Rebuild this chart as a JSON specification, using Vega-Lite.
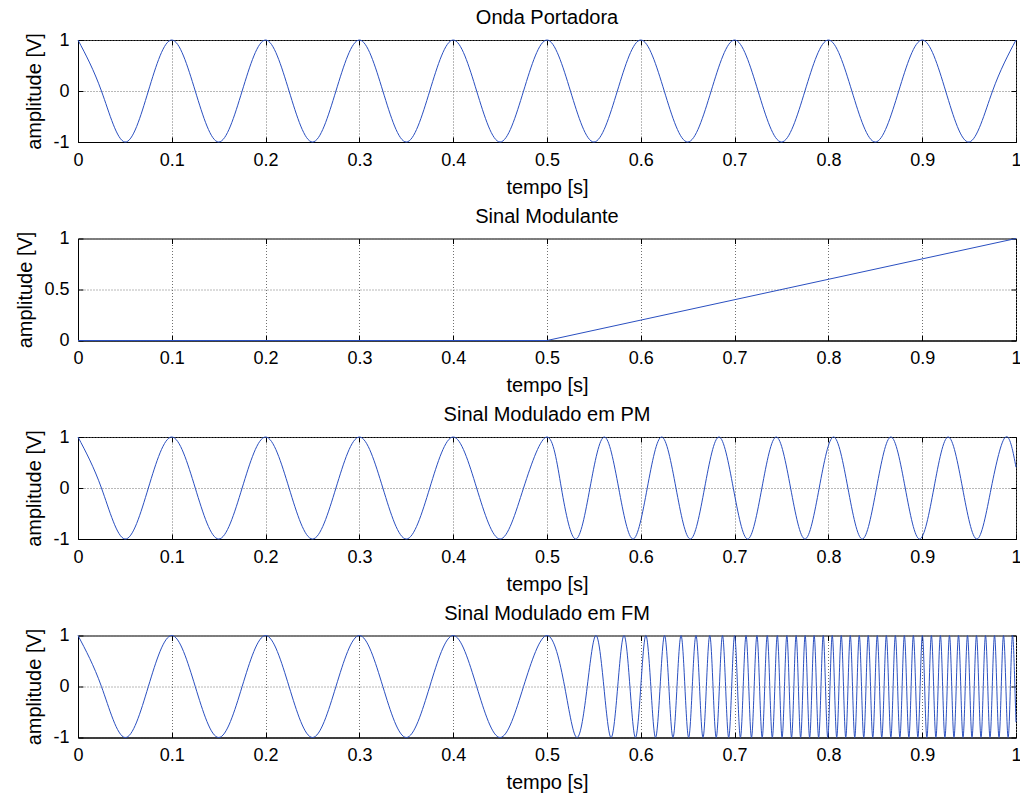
{
  "$schema": "https://vega.github.io/schema/vega-lite/v6.json",
  "padding": {"left": 15, "top": 7, "right": 5, "bottom": 5},
  "autosize": {"type": "pad"},
  "background": "#ffffff",
  "datasets": {
    "car": [{"t":0,"v":1},{"t":0.025,"v":0},{"t":0.05,"v":-1},{"t":0.075,"v":0},{"t":0.1,"v":1},{"t":0.125,"v":0},{"t":0.15,"v":-1},{"t":0.175,"v":0},{"t":0.2,"v":1},{"t":0.225,"v":0},{"t":0.25,"v":-1},{"t":0.275,"v":0},{"t":0.3,"v":1},{"t":0.325,"v":0},{"t":0.35,"v":-1},{"t":0.375,"v":0},{"t":0.4,"v":1},{"t":0.425,"v":0},{"t":0.45,"v":-1},{"t":0.475,"v":0},{"t":0.5,"v":1},{"t":0.525,"v":0},{"t":0.55,"v":-1},{"t":0.575,"v":0},{"t":0.6,"v":1},{"t":0.625,"v":0},{"t":0.65,"v":-1},{"t":0.675,"v":0},{"t":0.7,"v":1},{"t":0.725,"v":0},{"t":0.75,"v":-1},{"t":0.775,"v":0},{"t":0.8,"v":1},{"t":0.825,"v":0},{"t":0.85,"v":-1},{"t":0.875,"v":0},{"t":0.9,"v":1},{"t":0.925,"v":0},{"t":0.95,"v":-1},{"t":0.975,"v":0},{"t":1,"v":1}],
    "mod": [{"t":0,"v":0},{"t":0.5,"v":0},{"t":1,"v":1}],
    "pm": [{"t":0,"v":1},{"t":0.025,"v":0},{"t":0.05,"v":-1},{"t":0.075,"v":0},{"t":0.1,"v":1},{"t":0.125,"v":0},{"t":0.15,"v":-1},{"t":0.175,"v":0},{"t":0.2,"v":1},{"t":0.225,"v":0},{"t":0.25,"v":-1},{"t":0.275,"v":0},{"t":0.3,"v":1},{"t":0.325,"v":0},{"t":0.35,"v":-1},{"t":0.375,"v":0},{"t":0.4,"v":1},{"t":0.425,"v":0},{"t":0.45,"v":-1},{"t":0.475,"v":0},{"t":0.5,"v":1},
      {"t":0.5153,"v":0},{"t":0.5306,"v":-1},{"t":0.5458,"v":0},{"t":0.5611,"v":1},{"t":0.5764,"v":0},{"t":0.5917,"v":-1},{"t":0.6069,"v":0},{"t":0.6222,"v":1},{"t":0.6375,"v":0},{"t":0.6528,"v":-1},{"t":0.668,"v":0},{"t":0.6833,"v":1},{"t":0.6986,"v":0},{"t":0.7139,"v":-1},{"t":0.7291,"v":0},{"t":0.7444,"v":1},{"t":0.7597,"v":0},{"t":0.775,"v":-1},{"t":0.7902,"v":0},{"t":0.8055,"v":1},{"t":0.8208,"v":0},{"t":0.8361,"v":-1},{"t":0.8513,"v":0},{"t":0.8666,"v":1},{"t":0.8819,"v":0},{"t":0.8972,"v":-1},{"t":0.9125,"v":0},{"t":0.9277,"v":1},{"t":0.943,"v":0},{"t":0.9583,"v":-1},{"t":0.9736,"v":0},{"t":0.9888,"v":1},{"t":1,"v":0.409}],
    "fm": [{"t":0,"v":1},{"t":0.025,"v":0},{"t":0.05,"v":-1},{"t":0.075,"v":0},{"t":0.1,"v":1},{"t":0.125,"v":0},{"t":0.15,"v":-1},{"t":0.175,"v":0},{"t":0.2,"v":1},{"t":0.225,"v":0},{"t":0.25,"v":-1},{"t":0.275,"v":0},{"t":0.3,"v":1},{"t":0.325,"v":0},{"t":0.35,"v":-1},{"t":0.375,"v":0},{"t":0.4,"v":1},{"t":0.425,"v":0},{"t":0.45,"v":-1},{"t":0.475,"v":0},{"t":0.5,"v":1},
      {"t":0.5188,"v":0},{"t":0.532,"v":-1},{"t":0.5429,"v":0},{"t":0.5522,"v":1},{"t":0.5606,"v":0},{"t":0.5683,"v":-1},{"t":0.5754,"v":0},{"t":0.5821,"v":1},{"t":0.5884,"v":0},{"t":0.5943,"v":-1},{"t":0.6,"v":0},{"t":0.6054,"v":1},{"t":0.6107,"v":0},{"t":0.6157,"v":-1},{"t":0.6206,"v":0},{"t":0.6253,"v":1},{"t":0.6299,"v":0},{"t":0.6343,"v":-1},{"t":0.6386,"v":0},{"t":0.6429,"v":1},{"t":0.647,"v":0},{"t":0.651,"v":-1},{"t":0.6549,"v":0},{"t":0.6588,"v":1},{"t":0.6626,"v":0},{"t":0.6663,"v":-1},{"t":0.6699,"v":0},{"t":0.6735,"v":1},{"t":0.677,"v":0},{"t":0.6804,"v":-1},{"t":0.6838,"v":0},{"t":0.6871,"v":1},{"t":0.6904,"v":0},{"t":0.6937,"v":-1},{"t":0.6969,"v":0},{"t":0.7,"v":1},{"t":0.7031,"v":0},{"t":0.7062,"v":-1},{"t":0.7092,"v":0},{"t":0.7122,"v":1},{"t":0.7151,"v":0},{"t":0.718,"v":-1},{"t":0.7209,"v":0},{"t":0.7238,"v":1},{"t":0.7266,"v":0},{"t":0.7294,"v":-1},{"t":0.7321,"v":0},{"t":0.7348,"v":1},{"t":0.7375,"v":0},{"t":0.7402,"v":-1},{"t":0.7429,"v":0},{"t":0.7455,"v":1},{"t":0.7481,"v":0},{"t":0.7506,"v":-1},{"t":0.7532,"v":0},{"t":0.7557,"v":1},{"t":0.7582,"v":0},{"t":0.7607,"v":-1},{"t":0.7632,"v":0},{"t":0.7656,"v":1},{"t":0.768,"v":0},
      {"t":0.7704,"v":-1},{"t":0.7728,"v":0},{"t":0.7752,"v":1},{"t":0.7776,"v":0},{"t":0.78,"v":-1},{"t":0.7824,"v":0},{"t":0.7848,"v":1},{"t":0.7872,"v":0},{"t":0.7896,"v":-1},{"t":0.7921,"v":0},{"t":0.7945,"v":1},{"t":0.7969,"v":0},{"t":0.7993,"v":-1},{"t":0.8017,"v":0},{"t":0.8041,"v":1},{"t":0.8065,"v":0},{"t":0.8089,"v":-1},{"t":0.8113,"v":0},{"t":0.8137,"v":1},{"t":0.8161,"v":0},{"t":0.8185,"v":-1},{"t":0.8209,"v":0},{"t":0.8233,"v":1},{"t":0.8257,"v":0},{"t":0.8281,"v":-1},{"t":0.8305,"v":0},{"t":0.8329,"v":1},{"t":0.8353,"v":0},{"t":0.8377,"v":-1},{"t":0.8401,"v":0},{"t":0.8425,"v":1},{"t":0.8449,"v":0},{"t":0.8473,"v":-1},{"t":0.8497,"v":0},{"t":0.8521,"v":1},{"t":0.8545,"v":0},{"t":0.8569,"v":-1},{"t":0.8594,"v":0},{"t":0.8618,"v":1},{"t":0.8642,"v":0},{"t":0.8666,"v":-1},{"t":0.869,"v":0},{"t":0.8714,"v":1},{"t":0.8738,"v":0},{"t":0.8762,"v":-1},{"t":0.8786,"v":0},{"t":0.881,"v":1},{"t":0.8834,"v":0},{"t":0.8858,"v":-1},{"t":0.8882,"v":0},{"t":0.8906,"v":1},{"t":0.893,"v":0},{"t":0.8954,"v":-1},{"t":0.8978,"v":0},{"t":0.9002,"v":1},{"t":0.9026,"v":0},{"t":0.905,"v":-1},{"t":0.9074,"v":0},{"t":0.9098,"v":1},{"t":0.9122,"v":0},{"t":0.9146,"v":-1},{"t":0.917,"v":0},{"t":0.9194,"v":1},{"t":0.9218,"v":0},{"t":0.9242,"v":-1},{"t":0.9267,"v":0},{"t":0.9291,"v":1},{"t":0.9315,"v":0},{"t":0.9339,"v":-1},{"t":0.9363,"v":0},{"t":0.9387,"v":1},{"t":0.9411,"v":0},{"t":0.9435,"v":-1},{"t":0.9459,"v":0},{"t":0.9483,"v":1},{"t":0.9507,"v":0},{"t":0.9531,"v":-1},{"t":0.9555,"v":0},{"t":0.9579,"v":1},{"t":0.9603,"v":0},{"t":0.9627,"v":-1},{"t":0.9651,"v":0},{"t":0.9675,"v":1},{"t":0.9699,"v":0},{"t":0.9723,"v":-1},{"t":0.9747,"v":0},{"t":0.9771,"v":1},{"t":0.9795,"v":0},{"t":0.9819,"v":-1},{"t":0.9843,"v":0},{"t":0.9867,"v":1},{"t":0.9892,"v":0},{"t":0.9916,"v":-1},{"t":0.994,"v":0},{"t":0.9964,"v":1},{"t":0.9988,"v":0},{"t":1,"v":-0.7}]
  },
  "config": {
    "font": "Liberation Sans",
    "view": {"stroke": "#000000", "strokeWidth": 1},
    "line": {"color": "#2a4fc0", "strokeWidth": 1},
    "title": {"fontSize": 20, "fontWeight": "normal", "color": "#000000", "offset": 3, "frame": "group", "font": "Liberation Sans"},
    "axis": {
      "labelFont": "Liberation Sans", "labelFontSize": 18, "labelColor": "#000000",
      "titleFont": "Liberation Sans", "titleFontSize": 20, "titleFontWeight": "normal", "titleColor": "#000000",
      "tickSize": -5, "tickColor": "#000000", "domainColor": "#000000",
      "gridColor": "#707070", "gridDash": [1, 2], "gridOpacity": 1,
      "labelFlush": false, "labelOverlap": false,
      "labelPadding": 14, "titlePadding": 8,
      "labelExpr": "'' + datum.value"
    }
  },
  "bounds": "flush",
  "spacing": 96.5,
  "vconcat": [
    {
      "title": "Onda Portadora",
      "width": 938, "height": 102,
      "data": {"name": "car"},
      "layer": [
        {"mark": {"type": "line", "interpolate": "natural"},
         "encoding": {
           "x": {"field": "t", "type": "quantitative", "scale": {"domain": [0, 1], "nice": false}, "axis": {"orient": "bottom", "values": [0,0.1,0.2,0.3,0.4,0.5,0.6,0.7,0.8,0.9,1], "title": "tempo [s]", "grid": true}},
           "y": {"field": "v", "type": "quantitative", "scale": {"domain": [-1, 1], "nice": false}, "axis": {"orient": "left", "values": [-1,0,1], "title": "amplitude [V]", "grid": true}}
         }},
        {"mark": {"type": "line", "opacity": 0},
         "encoding": {
           "x": {"field": "t", "type": "quantitative", "axis": {"orient": "top", "values": [0,0.1,0.2,0.3,0.4,0.5,0.6,0.7,0.8,0.9,1], "labels": false, "title": null, "grid": false, "domain": false}},
           "y": {"field": "v", "type": "quantitative", "axis": {"orient": "right", "values": [-1,0,1], "labels": false, "title": null, "grid": false, "domain": false}}
         }}
      ]
    },
    {
      "title": "Sinal Modulante",
      "width": 938, "height": 102,
      "data": {"name": "mod"},
      "layer": [
        {"mark": {"type": "line"},
         "encoding": {
           "x": {"field": "t", "type": "quantitative", "scale": {"domain": [0, 1], "nice": false}, "axis": {"orient": "bottom", "values": [0,0.1,0.2,0.3,0.4,0.5,0.6,0.7,0.8,0.9,1], "title": "tempo [s]", "grid": true}},
           "y": {"field": "v", "type": "quantitative", "scale": {"domain": [0, 1], "nice": false}, "axis": {"orient": "left", "values": [0,0.5,1], "title": "amplitude [V]", "grid": true}}
         }},
        {"mark": {"type": "line", "opacity": 0},
         "encoding": {
           "x": {"field": "t", "type": "quantitative", "axis": {"orient": "top", "values": [0,0.1,0.2,0.3,0.4,0.5,0.6,0.7,0.8,0.9,1], "labels": false, "title": null, "grid": false, "domain": false}},
           "y": {"field": "v", "type": "quantitative", "axis": {"orient": "right", "values": [0,0.5,1], "labels": false, "title": null, "grid": false, "domain": false}}
         }}
      ]
    },
    {
      "title": "Sinal Modulado em PM",
      "width": 938, "height": 102,
      "data": {"name": "pm"},
      "layer": [
        {"mark": {"type": "line", "interpolate": "natural"},
         "encoding": {
           "x": {"field": "t", "type": "quantitative", "scale": {"domain": [0, 1], "nice": false}, "axis": {"orient": "bottom", "values": [0,0.1,0.2,0.3,0.4,0.5,0.6,0.7,0.8,0.9,1], "title": "tempo [s]", "grid": true}},
           "y": {"field": "v", "type": "quantitative", "scale": {"domain": [-1, 1], "nice": false}, "axis": {"orient": "left", "values": [-1,0,1], "title": "amplitude [V]", "grid": true}}
         }},
        {"mark": {"type": "line", "opacity": 0},
         "encoding": {
           "x": {"field": "t", "type": "quantitative", "axis": {"orient": "top", "values": [0,0.1,0.2,0.3,0.4,0.5,0.6,0.7,0.8,0.9,1], "labels": false, "title": null, "grid": false, "domain": false}},
           "y": {"field": "v", "type": "quantitative", "axis": {"orient": "right", "values": [-1,0,1], "labels": false, "title": null, "grid": false, "domain": false}}
         }}
      ]
    },
    {
      "title": "Sinal Modulado em FM",
      "width": 938, "height": 102,
      "data": {"name": "fm"},
      "layer": [
        {"mark": {"type": "line", "interpolate": "natural"},
         "encoding": {
           "x": {"field": "t", "type": "quantitative", "scale": {"domain": [0, 1], "nice": false}, "axis": {"orient": "bottom", "values": [0,0.1,0.2,0.3,0.4,0.5,0.6,0.7,0.8,0.9,1], "title": "tempo [s]", "grid": true}},
           "y": {"field": "v", "type": "quantitative", "scale": {"domain": [-1, 1], "nice": false}, "axis": {"orient": "left", "values": [-1,0,1], "title": "amplitude [V]", "grid": true}}
         }},
        {"mark": {"type": "line", "opacity": 0},
         "encoding": {
           "x": {"field": "t", "type": "quantitative", "axis": {"orient": "top", "values": [0,0.1,0.2,0.3,0.4,0.5,0.6,0.7,0.8,0.9,1], "labels": false, "title": null, "grid": false, "domain": false}},
           "y": {"field": "v", "type": "quantitative", "axis": {"orient": "right", "values": [-1,0,1], "labels": false, "title": null, "grid": false, "domain": false}}
         }}
      ]
    }
  ]
}
